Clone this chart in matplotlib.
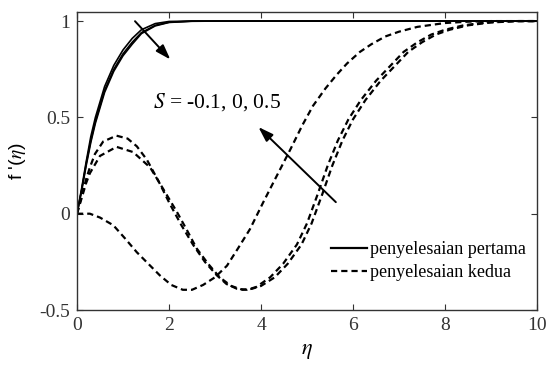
import matplotlib
matplotlib.use("Agg")
import matplotlib.pyplot as plt

# first solution (three S values, nearly overlapping)
eta_solid = [0, 0.1, 0.2, 0.3, 0.4, 0.6, 0.8, 1.0, 1.2, 1.4, 1.7, 2.0, 2.5, 3.0, 10]
f1_a = [0, 0.13, 0.27, 0.40, 0.50, 0.66, 0.77, 0.85, 0.91, 0.955, 0.987, 0.998, 1.0, 1.0, 1.0]
f1_b = [0, 0.12, 0.26, 0.38, 0.48, 0.64, 0.75, 0.83, 0.89, 0.94, 0.978, 0.994, 1.0, 1.0, 1.0]
f1_c = [0, 0.12, 0.25, 0.37, 0.47, 0.63, 0.74, 0.82, 0.88, 0.935, 0.975, 0.993, 0.999, 1.0, 1.0]

# second solution
eta_a = [0, 0.28, 0.5, 0.79, 1.05, 1.3, 1.55, 1.8, 2.05, 2.3, 2.5, 2.74, 3.0, 3.26, 3.5, 3.76,
         4.05, 4.35, 4.63, 4.9, 5.13, 5.4, 5.64, 5.87, 6.15, 6.4, 6.7, 7.0, 7.4, 8.0, 8.5, 9.0, 10]
f2_a = [0, 0.0, -0.02, -0.06, -0.13, -0.2, -0.26, -0.32, -0.37, -0.395, -0.395, -0.37, -0.33,
        -0.27, -0.18, -0.08, 0.06, 0.2, 0.33, 0.46, 0.56, 0.65, 0.72, 0.78, 0.84, 0.88, 0.92,
        0.945, 0.97, 0.99, 0.997, 1.0, 1.0]

eta_b = [0, 0.1, 0.2, 0.28, 0.39, 0.57, 0.86, 1.1, 1.3, 1.52, 1.77, 2.02, 2.27, 2.52, 2.78,
         3.04, 3.25, 3.48, 3.7, 3.9, 4.2, 4.48, 4.78, 5.0, 5.23, 5.45, 5.67, 5.9, 6.17, 6.5,
         6.82, 7.1, 7.4, 7.7, 8.0, 8.4, 8.9, 9.5, 10]
f2_b = [0, 0.09, 0.18, 0.24, 0.31, 0.375, 0.405, 0.39, 0.35, 0.28, 0.17, 0.05, -0.06, -0.16,
        -0.25, -0.32, -0.365, -0.39, -0.395, -0.38, -0.33, -0.26, -0.16, -0.05, 0.1, 0.25,
        0.38, 0.49, 0.59, 0.69, 0.77, 0.84, 0.89, 0.93, 0.955, 0.978, 0.993, 1.0, 1.0]

eta_c = [0, 0.1, 0.2, 0.28, 0.5, 0.86, 1.22, 1.59, 1.87, 2.17, 2.4, 2.6, 2.85, 3.1, 3.35, 3.6,
         3.8, 4.0, 4.3, 4.58, 4.88, 5.1, 5.33, 5.55, 5.77, 6.0, 6.27, 6.6, 6.92, 7.2, 7.5,
         7.8, 8.1, 8.5, 9.0, 9.6, 10]
f2_c = [0, 0.08, 0.16, 0.21, 0.3, 0.347, 0.32, 0.24, 0.13, 0.01, -0.09, -0.18, -0.26, -0.33,
        -0.375, -0.395, -0.39, -0.375, -0.33, -0.26, -0.16, -0.05, 0.1, 0.25, 0.38, 0.49,
        0.59, 0.69, 0.77, 0.84, 0.89, 0.93, 0.955, 0.978, 0.993, 1.0, 1.0]

plt.rcParams['font.family'] = ['Liberation Serif']
plt.rcParams['mathtext.fontset'] = 'stix'

fig = plt.figure(figsize=(5.48, 3.76), dpi=100)
ax = fig.add_axes([0.1405, 0.1755, 0.8395, 0.7925])

dash = (2.8, 1.8)
for f in (f1_a, f1_b, f1_c):
    ax.plot(eta_solid, f, color='black', lw=1.2)
ax.plot(eta_a, f2_a, color='black', lw=1.6, dashes=dash)
ax.plot(eta_b, f2_b, color='black', lw=1.6, dashes=dash)
ax.plot(eta_c, f2_c, color='black', lw=1.6, dashes=dash)

# legend proxies
h1, = ax.plot([], [], color='black', lw=1.6, label='penyelesaian pertama')
h2, = ax.plot([], [], color='black', lw=1.6, dashes=dash, label='penyelesaian kedua')
ax.legend(handles=[h1, h2], loc='lower right', bbox_to_anchor=(1.0, 0.06), frameon=False,
          fontsize=13, handlelength=2.0, handletextpad=0.2, labelspacing=0.35, borderaxespad=0.2)

# arrows and annotation
ax.annotate('', xy=(2.07, 0.79), xytext=(1.22, 1.01),
            arrowprops=dict(arrowstyle='-|>,head_length=0.9,head_width=0.3', color='black', lw=1.4))
ax.annotate('', xy=(3.9, 0.46), xytext=(5.67, 0.05),
            arrowprops=dict(arrowstyle='-|>,head_length=0.9,head_width=0.3', color='black', lw=1.4))
ax.text(1.65, 0.55, '$S$ = -0.1, 0, 0.5', fontsize=15.5, ha='left', va='baseline')

ax.set_xlim(0, 10)
ax.set_ylim(-0.5, 1.047)
ax.set_xticks([0, 2, 4, 6, 8, 10])
ax.set_yticks([-0.5, 0, 0.5, 1])
ax.set_yticklabels(['-0.5', '0', '0.5', '1'])
ax.tick_params(direction='in', top=True, right=True, length=4, width=0.8,
               labelsize=14, colors='#333333', labelcolor='#333333', pad=5)
for s in ax.spines.values():
    s.set_linewidth(1.0)
    s.set_color('#333333')

ax.set_xlabel(r'$\eta$', fontsize=16, labelpad=6)
ax.set_ylabel(r"f '($\eta$)", fontsize=14, family='Liberation Sans', labelpad=8)

fig.savefig('out.png', dpi=100)
